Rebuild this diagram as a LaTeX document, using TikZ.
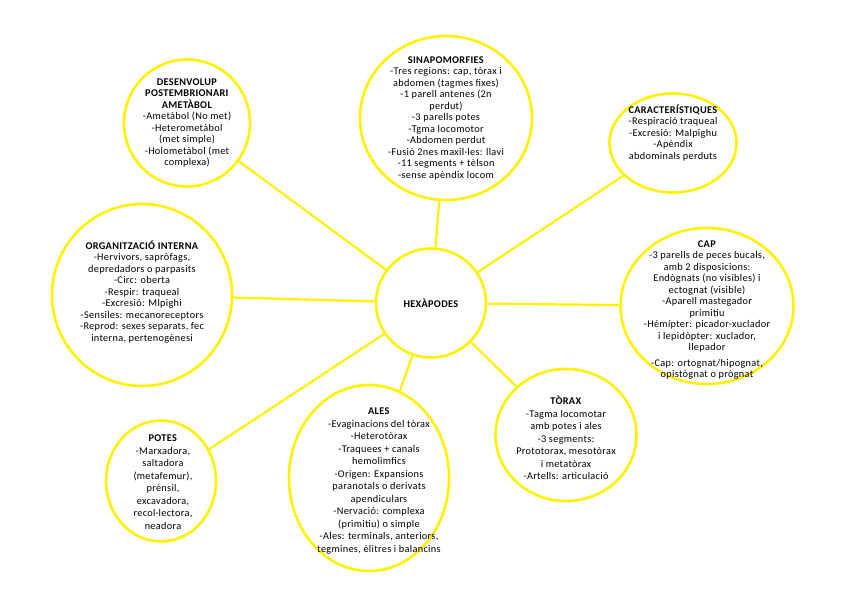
\documentclass[tikz,border=0pt]{standalone}
\usepackage{fontspec}
\setmainfont{Carlito}[LetterSpace=3]
\usetikzlibrary{shapes.geometric}
\definecolor{ylw}{RGB}{255,242,0}
\begin{document}
\begin{tikzpicture}[x=1pt,y=-1pt,
  bubble/.style={ellipse,draw=ylw,line width=2.6pt,inner sep=0pt},
  txt/.style={align=center,font=\fontsize{10.3}{11.5}\selectfont,inner sep=0pt},
  txtb/.style={align=center,font=\fontsize{10.3}{12.5}\selectfont,inner sep=0pt},
  link/.style={draw=ylw,line width=2.2pt}]
\path[use as bounding box] (0,0) rectangle (848,599);
\fill[white] (0,0) rectangle (848,599);
% bubbles
\node[bubble,minimum width=110pt,minimum height=109pt] (hex) at (431,303) {};
\node[bubble,minimum width=172pt,minimum height=164pt] (sin) at (446,118) {};
\node[bubble,minimum width=126pt,minimum height=127pt] (des) at (187,123) {};
\node[bubble,minimum width=127pt,minimum height=99pt] (car) at (673,143) {};
\node[bubble,minimum width=180pt,minimum height=182pt] (org) at (142,295) {};
\node[bubble,minimum width=173pt,minimum height=156pt] (cap) at (707,306) {};
\node[bubble,minimum width=141pt,minimum height=132pt] (tor) at (566,435) {};
\node[bubble,minimum width=160pt,minimum height=186pt] (ales) at (369,478) {};
\node[bubble,minimum width=110pt,minimum height=121pt] (pot) at (161,481) {};
% connectors
\draw[link] (hex) -- (sin);
\draw[link] (hex) -- (des);
\draw[link] (hex) -- (car);
\draw[link] (hex) -- (org);
\draw[link] (hex) -- (cap);
\draw[link] (hex) -- (tor);
\draw[link] (hex) -- (ales);
\draw[link] (hex) -- (pot);
% texts
\node[txt] (thex) at (431,303) {\textbf{HEXÀPODES}};
\node[txt] (tsin) at (446,118) {\textbf{SINAPOMORFIES}\\-Tres regions: cap, tòrax i\\abdomen (tagmes fixes)\\-1 parell antenes (2n\\perdut)\\-3 parells potes\\-Tgma locomotor\\-Abdomen perdut\\-Fusió 2nes maxil·les: llavi\\-11 segments + tèlson\\-sense apèndix locom};
\node[txt] (tdes) at (187,123) {\textbf{DESENVOLUP}\\\textbf{POSTEMBRIONARI}\\\textbf{AMETÀBOL}\\-Ametàbol (No met)\\-Heterometàbol\\(met simple)\\-Holometàbol (met\\complexa)};
\node[txt] (tcar) at (673,133) {\textbf{CARACTERÍSTIQUES}\\-Respiració traqueal\\-Excresió: Malpighu\\-Apèndix\\abdominals perduts};
\node[txt] (torg) at (142,292) {\textbf{ORGANITZACIÓ INTERNA}\\-Hervivors, sapròfags,\\depredadors o parpasits\\-Circ: oberta\\-Respir: traqueal\\-Excresió: Mlpighi\\-Sensiles: mecanoreceptors\\-Reprod: sexes separats, fec\\interna, pertenogènesi};
\node[txt] (tcap) at (707,310) {\textbf{CAP}\\-3 parells de peces bucals,\\amb 2 disposicions:\\Endògnats (no visibles) i\\ectognat (visible)\\-Aparell mastegador\\primitiu\\-Hémípter: picador-xuclador\\i lepidòpter: xuclador,\\llepador\\[4pt]-Cap: ortognat/hipognat,\\opistògnat o prògnat};
\node[txtb] (ttor) at (566,438) {\textbf{TÒRAX}\\-Tagma locomotar\\amb potes i ales\\-3 segments:\\Prototorax, mesotòrax\\i metatòrax\\-Artells: articulació};
\node[txtb] (tales) at (379,481) {\textbf{ALES}\\-Evaginacions del tòrax\\-Heterotòrax\\-Traquees + canals\\hemolimfics\\-Origen: Expansions\\paranotals o derivats\\apendiculars\\-Nervació: complexa\\(primitiu) o simple\\-Ales: terminals, anteriors,\\tegmines, èlitres i balancins};
\node[txtb] (tpot) at (163,482) {\textbf{POTES}\\-Marxadora,\\saltadora\\(metafemur),\\prènsil,\\excavadora,\\recol·lectora,\\neadora};
\end{tikzpicture}
\end{document}
